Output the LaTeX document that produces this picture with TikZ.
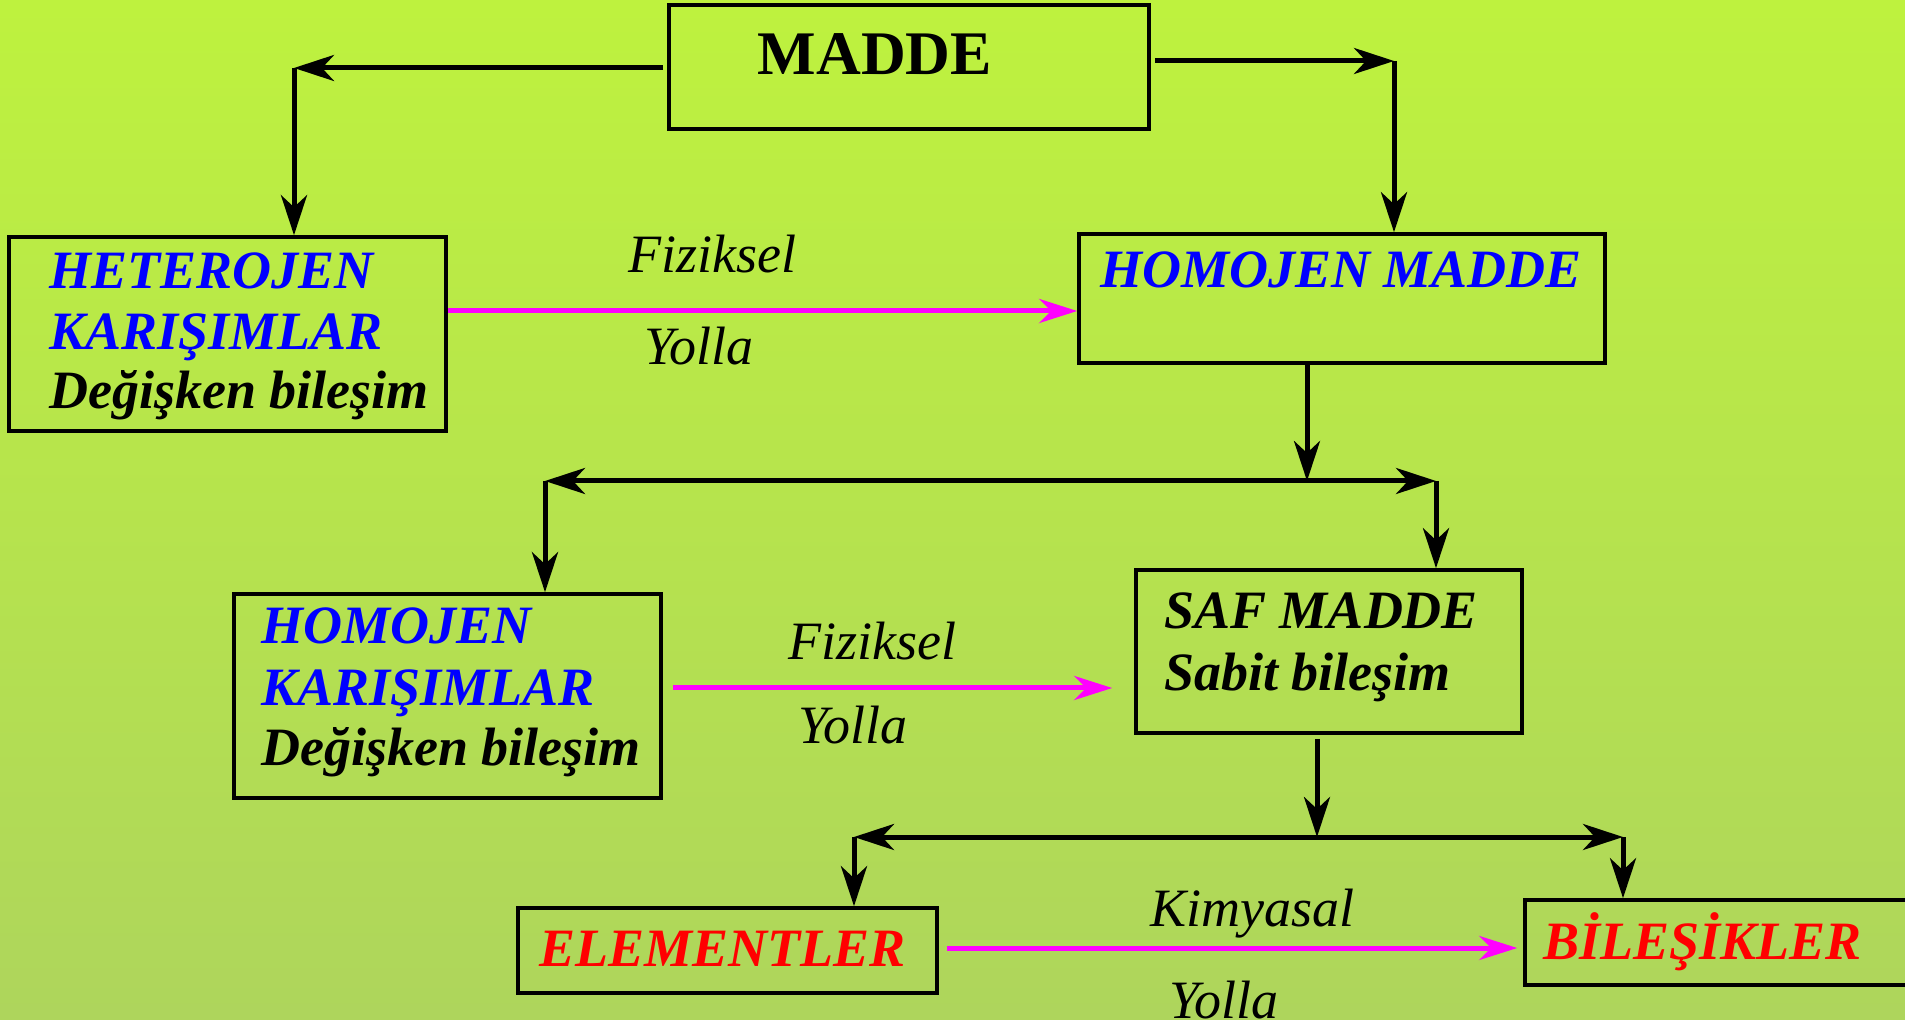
\documentclass[tikz,border=0pt]{standalone}
\usepackage{fontspec}
\setmainfont{Liberation Serif}
\usetikzlibrary{arrows.meta}
\definecolor{bgtop}{HTML}{BEF23E}
\definecolor{bgmid}{HTML}{B6E648}
\definecolor{bgbot}{HTML}{AED55C}
\definecolor{mag}{RGB}{255,0,255}
\begin{document}
\begin{tikzpicture}[x=0.5pt,y=-0.5pt,
  box/.style={draw=black,line width=1.8pt,rectangle,inner sep=0pt},
  txt/.style={anchor=base west,inner sep=0pt,font=\fontsize{27}{30}\selectfont\bfseries\itshape},
  lbl/.style={anchor=base,inner sep=0pt,font=\fontsize{27}{30}\selectfont\itshape},
  arr/.style={draw=black,line width=2.5pt,-{Stealth[length=20pt,width=13pt,inset=6pt]}},
  marr/.style={draw=mag,line width=2.5pt,-{Stealth[length=19pt,width=12pt,inset=6pt]}}]
\useasboundingbox (0,0) rectangle (1905,1020);
\clip (0,0) rectangle (1905,1020);
\shade[top color=bgtop,middle color=bgmid,bottom color=bgbot] (0,0) rectangle (1905,1020);

% boxes
\node[box,minimum width=480*0.5pt,minimum height=124*0.5pt] (madde) at (909,67) {};
\node[box,minimum width=437*0.5pt,minimum height=194*0.5pt] (het) at (227.5,334) {};
\node[box,minimum width=526*0.5pt,minimum height=129*0.5pt] (hm) at (1342,298.5) {};
\node[box,minimum width=427*0.5pt,minimum height=204*0.5pt] (hk) at (447.5,696) {};
\node[box,minimum width=386*0.5pt,minimum height=163*0.5pt] (saf) at (1329,651.5) {};
\node[box,minimum width=419*0.5pt,minimum height=85*0.5pt] (el) at (727.5,950.5) {};
\node[box,minimum width=405*0.5pt,minimum height=85*0.5pt] (bil) at (1727.5,942.5) {};

% texts
\node[anchor=base,inner sep=0pt,font=\fontsize{31}{34}\selectfont\bfseries] (tmadde) at (875,75) {MADDE};
\node[txt,text=blue] (thet1) at (49,289) {HETEROJEN};
\node[txt,text=blue] (thet2) at (49,350) {KARIŞIMLAR};
\node[txt] (thet3) at (49,409) {Değişken bileşim};
\node[txt,text=blue] (thm) at (1100,288) {HOMOJEN MADDE};
\node[txt,text=blue] (thk1) at (261,644) {HOMOJEN};
\node[txt,text=blue] (thk2) at (261,705) {KARIŞIMLAR};
\node[txt] (thk3) at (261,765) {Değişken bileşim};
\node[txt] (tsaf1) at (1164,629) {SAF MADDE};
\node[txt] (tsaf2) at (1164,690) {Sabit bileşim};
\node[txt,text=red] (tel) at (539,966) {ELEMENTLER};
\node[txt,text=red] (tbil) at (1543,959) {BİLEŞİKLER};

% connector labels
\node[lbl] (f1) at (712,273) {Fiziksel};
\node[lbl] (y1) at (699,365) {Yolla};
\node[lbl] (f2) at (872,660) {Fiziksel};
\node[lbl] (y2) at (853,743) {Yolla};
\node[lbl] (k3) at (1252,926) {Kimyasal};
\node[lbl] (y3) at (1224,1018) {Yolla};

% corner coordinates
\coordinate (c1) at (294,68);
\coordinate (c2) at (1394,61);
\coordinate (j1) at (1307,481);
\coordinate (c3) at (545,481);
\coordinate (c4) at (1436,481);
\coordinate (j2) at (1317,837);
\coordinate (c5) at (854,837);
\coordinate (c6) at (1623,837);
\coordinate (m1) at (0,311);
\coordinate (m2) at (0,688);
\coordinate (m3) at (0,948);

% top level
\draw[arr] ([xshift=-2pt]madde.west |- c1) -- (c1);
\draw[arr] (c1) -- (het.north -| c1);
\draw[arr] ([xshift=2pt]madde.east |- c2) -- (c2);
\draw[arr] (c2) -- (hm.north -| c2);
\draw[marr] (het.east |- m1) -- (hm.west |- m1);

% second level
\draw[arr] (hm.south -| j1) -- (j1);
\draw[arr] (j1) -- (c3);
\draw[arr] (j1) -- (c4);
\draw[arr] (c3) -- (hk.north -| c3);
\draw[arr] (c4) -- (saf.north -| c4);
\draw[marr,shorten <=5pt,shorten >=11pt] (hk.east |- m2) -- (saf.west |- m2);

% third level
\draw[arr,shorten <=2pt] (saf.south -| j2) -- (j2);
\draw[arr] (j2) -- (c5);
\draw[arr] (j2) -- (c6);
\draw[arr] (c5) -- (el.north -| c5);
\draw[arr] (c6) -- (bil.north -| c6);
\draw[marr,shorten <=4pt,shorten >=3pt] (el.east |- m3) -- (bil.west |- m3);
\end{tikzpicture}
\end{document}
